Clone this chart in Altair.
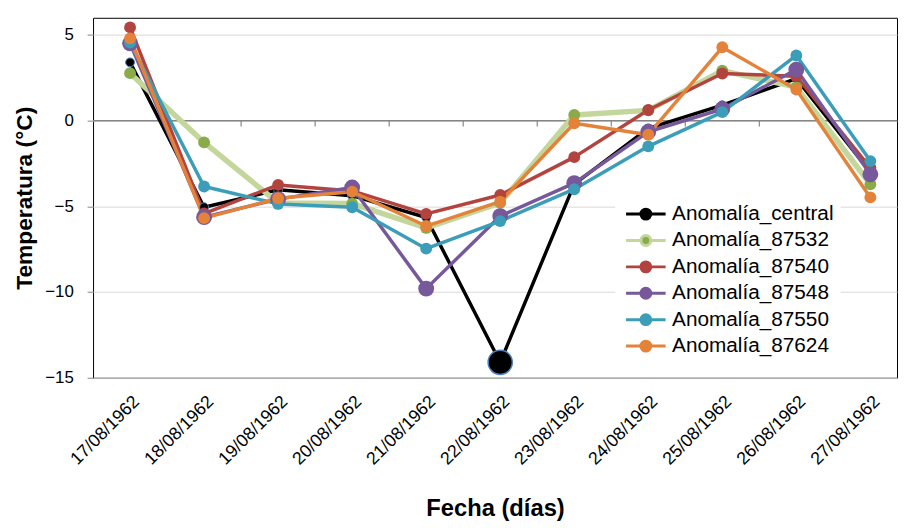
import json
import altair as alt
import pandas as pd

# ---------------- data ----------------
dates = ["17/08/1962", "18/08/1962", "19/08/1962", "20/08/1962", "21/08/1962",
         "22/08/1962", "23/08/1962", "24/08/1962", "25/08/1962", "26/08/1962",
         "27/08/1962"]

series_names = ["Anomalía_central", "Anomalía_87532", "Anomalía_87540",
                "Anomalía_87548", "Anomalía_87550", "Anomalía_87624"]

central = [3.40, -5.05, -4.03, -4.38, -5.65, -14.10, -3.70, -0.45, 0.90, 2.45, -3.00]
s87532 = [2.77, -1.27, -4.80, -4.84, -6.26, -4.80, 0.33, 0.60, 2.92, 1.95, -3.71]
s87540 = [5.44, -5.42, -3.75, -4.10, -5.44, -4.34, -2.13, 0.62, 2.75, 2.59, -2.75]
s87548 = [4.51, -5.63, -4.58, -3.90, -9.80, -5.57, -3.65, -0.65, 0.68, 2.98, -3.13]
s87550 = [4.55, -3.84, -4.86, -5.05, -7.47, -5.86, -4.00, -1.50, 0.50, 3.80, -2.36]
s87624 = [4.80, -5.69, -4.53, -4.15, -6.15, -4.73, -0.15, -0.82, 4.28, 1.81, -4.48]

series_values = [central, s87532, s87540, s87548, s87550, s87624]

y_ticks = [-15, -10, -5, 0, 5]

# ---------------- styles ----------------
line_colors = ["#000000", "#c3d69b", "#b3433f", "#76589b", "#3c9db8", "#e5823a"]
marker_colors = ["#000000", "#8aab4a", "#b3433f", "#76589b", "#3c9db8", "#e5823a"]

FONT = "Liberation Sans"

rows = []
for s_i, name in enumerate(series_names):
    for d_i, v in enumerate(series_values[s_i]):
        rows.append({"series": name, "idx": d_i, "value": v, "s_order": s_i})
df = pd.DataFrame(rows)

bounds_df = pd.DataFrame({"idx": [i + 0.5 for i in range(len(dates) - 1)],
                          "value": [0] * (len(dates) - 1)})
zero_df = pd.DataFrame({"value": [0]})

label_expr = json.dumps(dates) + "[datum.value]"

x_enc = alt.X(
    "idx:Q",
    scale=alt.Scale(domain=[-0.5, 10.36], nice=False, zero=False),
    axis=alt.Axis(
        values=list(range(len(dates))), labelExpr=label_expr,
        title="Fecha (días)", grid=False, ticks=False, domain=False,
        labelAngle=-45, labelAlign="right", labelBaseline="top",
        labelFlush=False, labelOverlap=False, labelBound=False,
        labelPadding=15, labelFontSize=18, labelFont=FONT, labelColor="#000",
        titleFont=FONT, titleFontSize=24, titleFontWeight="bold",
        titleColor="#000", titlePadding=29,
    ),
)

y_enc = alt.Y(
    "value:Q",
    scale=alt.Scale(domain=[-15, 6], nice=False, zero=False),
    axis=alt.Axis(
        values=y_ticks, title="Temperatura (°C)", grid=True,
        gridColor="#d9d9d9", gridWidth=1, domain=False,
        tickColor="#868686", tickSize=6, labelPadding=14,
        labelFont=FONT, labelFontSize=17, labelColor="#000",
        titleFont=FONT, titleFontSize=23, titleFontWeight="bold",
        titleColor="#000", titlePadding=8,
    ),
)

LEGEND_PATH = "M-4,0H-1M1,0H4M1,0A1,1,0,1,1,-1,0A1,1,0,1,1,1,0Z"

stroke_scale = alt.Scale(domain=series_names, range=line_colors)
fill_scale = alt.Scale(domain=series_names, range=marker_colors)


def make_legend():
    return alt.Legend(
        title=None, orient="none", legendX=528, legendY=181,
        fillColor="white", padding=7,
        labelFont=FONT, labelFontSize=21, labelColor="#000", labelLimit=400,
        symbolType=LEGEND_PATH, symbolSize=100, symbolStrokeWidth=3,
        symbolOffset=13.5, labelOffset=16, rowPadding=3.7,
        symbolOpacity=1,
    )


def is_series(i):
    return "datum.series === '%s'" % series_names[i]


zero_line = alt.Chart(zero_df).mark_rule(color="#868686", strokeWidth=1.5).encode(y=y_enc)

zero_ticks = alt.Chart(bounds_df).mark_tick(
    orient="vertical", size=6, thickness=1.2, color="#868686", yOffset=3, opacity=1
).encode(x=x_enc, y=y_enc)

lines = alt.Chart(df).mark_line(strokeJoin="round", strokeCap="round").encode(
    x=x_enc, y=y_enc,
    stroke=alt.Stroke("series:N", scale=stroke_scale, legend=make_legend()),
    strokeWidth={"value": 3.5, "condition": [{"test": is_series(1), "value": 5.5}]},
)

points = alt.Chart(df).mark_circle(opacity=1, strokeWidth=1).encode(
    x=x_enc, y=y_enc,
    fill=alt.Fill("series:N", scale=fill_scale, legend=make_legend()),
    size={"value": 144, "condition": [{"test": is_series(0), "value": 80},
                                      {"test": is_series(3), "value": 256}]},
    stroke={"value": "transparent", "condition": [{"test": is_series(0), "value": "#4f81bd"}]},
    order=alt.Order("s_order:Q"),
)

big = alt.Chart(df).transform_filter(
    alt.datum.series == series_names[0]
).transform_joinaggregate(
    vmin="min(value)"
).transform_filter(
    "datum.value == datum.vmin"
).mark_circle(size=600, fill="#000", stroke="#4f81bd", strokeWidth=1.5, opacity=1).encode(
    x=x_enc, y=y_enc
)

chart = alt.layer(zero_line, zero_ticks, lines, points, big).properties(
    width=813, height=364,
    padding={"left": 6, "top": 7, "right": 0, "bottom": 0},
    background="white",
).configure_view(stroke="#000", strokeWidth=1)

chart.save("out.html", embed_options={"renderer": "svg", "actions": False})
